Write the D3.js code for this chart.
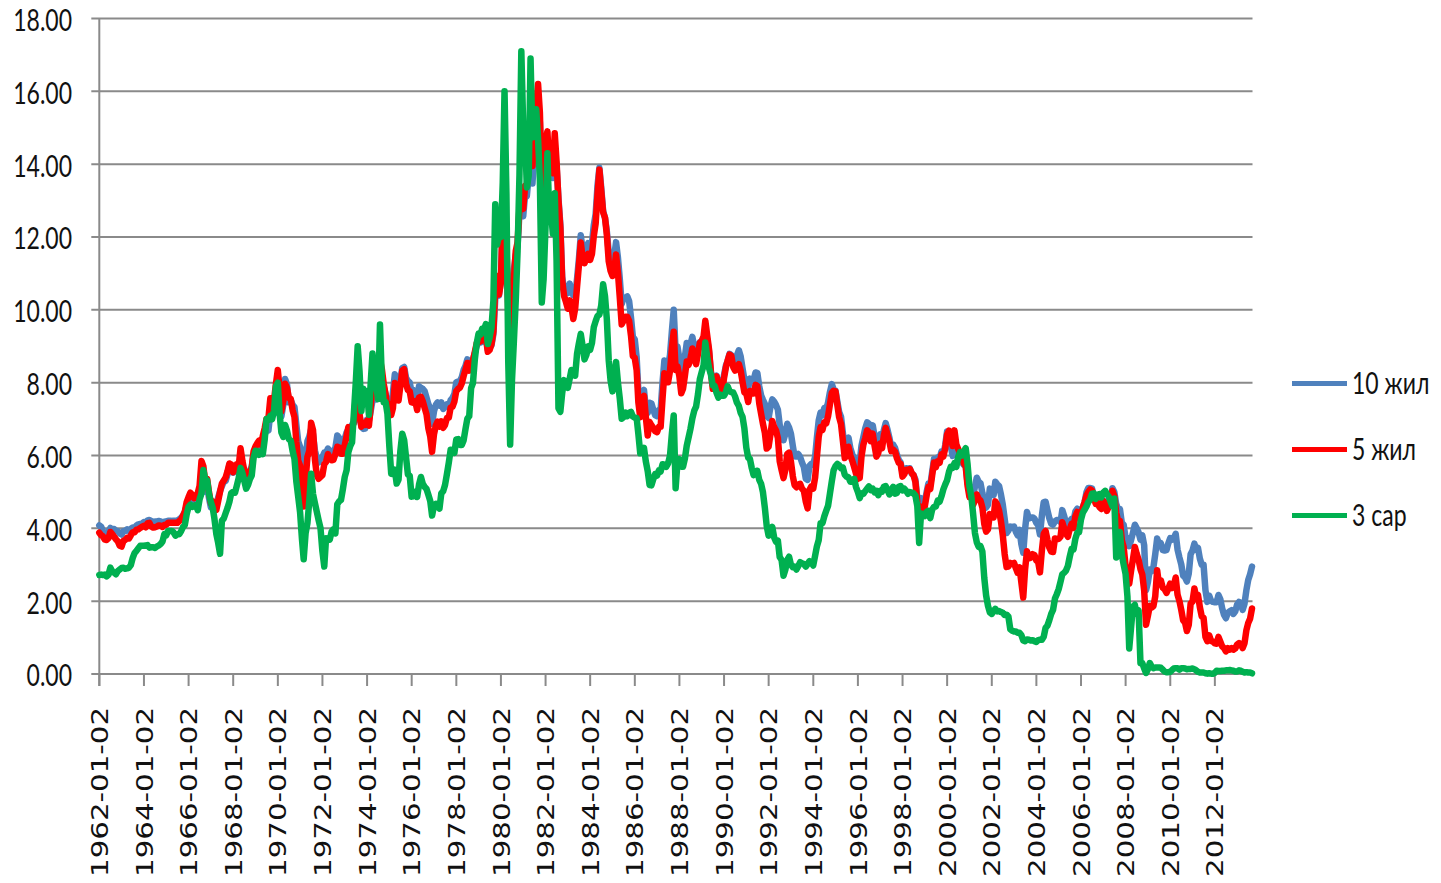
<!DOCTYPE html>
<html><head><meta charset="utf-8">
<script src="https://cdn.jsdelivr.net/npm/d3@7"></script>
<style>html,body{margin:0;padding:0;background:#fff;} svg{display:block}</style>
</head><body>
<svg id="chart" width="1441" height="883"></svg>
<script>
const seriesNames = ["10 жил", "5 жил", "3 сар"];
const seriesColors = ["#4F81BD", "#FF0000", "#00B050"];
const firstMonth = "1962-01";
const xTickLabels = ["1962-01-02","1964-01-02","1966-01-02","1968-01-02","1970-01-02","1972-01-02","1974-01-02","1976-01-02","1978-01-02","1980-01-02","1982-01-02","1984-01-02","1986-01-02","1988-01-02","1990-01-02","1992-01-02","1994-01-02","1996-01-02","1998-01-02","2000-01-02","2002-01-02","2004-01-02","2006-01-02","2008-01-02","2010-01-02","2012-01-02"];
const yTickValues = [0, 2, 4, 6, 8, 10, 12, 14, 16, 18];

// monthly values, Jan 1962 .. Sep 2013
const tenYear = [
4.08,4.04,3.93,3.84,3.87,3.91,4.01,3.98,3.98,3.93,3.92,3.86,
3.83,3.92,3.93,3.97,3.93,3.99,4.02,4.00,4.08,4.11,4.12,4.13,
4.17,4.15,4.22,4.23,4.20,4.17,4.19,4.19,4.20,4.19,4.15,4.18,
4.19,4.21,4.21,4.20,4.21,4.21,4.20,4.25,4.29,4.35,4.45,4.62,
4.61,4.83,4.87,4.75,4.78,4.81,5.02,5.22,5.18,5.01,5.16,4.84,
4.58,4.63,4.54,4.59,4.85,5.02,5.16,5.28,5.30,5.48,5.75,5.70,
5.53,5.56,5.74,5.64,5.87,5.72,5.50,5.42,5.46,5.58,5.70,6.03,
6.04,6.19,6.30,6.17,6.32,6.57,6.72,6.69,7.16,7.10,7.14,7.65,
7.79,7.24,7.07,7.39,8.10,7.95,7.46,7.53,7.39,7.33,6.84,6.39,
6.24,6.11,5.70,5.83,6.39,6.52,6.73,6.58,6.14,5.93,5.81,5.93,
5.95,6.08,6.07,6.19,6.13,6.11,6.11,6.21,6.55,6.48,6.28,6.36,
6.46,6.64,6.71,6.67,6.85,6.90,7.13,7.40,7.09,6.79,6.73,6.74,
6.99,6.96,7.21,7.51,7.58,7.54,7.81,8.04,8.04,7.90,7.68,7.43,
7.50,7.39,7.73,8.23,8.06,7.86,8.06,8.40,8.43,8.14,8.05,8.00,
7.74,7.79,7.73,7.56,7.90,7.86,7.83,7.77,7.59,7.41,7.29,6.87,
7.21,7.39,7.46,7.37,7.46,7.28,7.33,7.40,7.34,7.52,7.58,7.69,
8.01,8.03,8.04,8.15,8.35,8.46,8.64,8.41,8.42,8.64,8.81,9.01,
9.10,9.10,9.12,9.18,9.25,8.91,8.95,9.03,9.33,10.30,10.65,10.39,
10.80,12.41,12.75,11.47,10.18,9.78,10.25,11.10,11.51,11.75,12.68,12.84,
12.57,13.19,13.12,13.68,14.10,13.47,14.28,14.94,15.32,15.15,13.39,13.72,
14.59,14.43,13.86,13.87,13.62,14.30,13.95,13.06,12.34,10.91,10.55,10.54,
10.46,10.72,10.51,10.40,10.38,10.85,11.38,12.05,11.65,11.54,11.69,11.83,
11.67,11.84,12.32,12.63,13.41,13.90,13.36,12.72,12.52,12.16,11.57,11.50,
11.38,11.51,11.86,11.43,10.85,10.16,10.31,10.33,10.37,10.24,9.78,9.26,
9.19,8.70,7.78,7.30,7.71,7.80,7.30,7.17,7.45,7.43,7.25,7.11,
7.08,7.25,7.25,8.02,8.61,8.40,8.45,8.76,9.42,10.00,8.86,8.99,
8.67,8.21,8.37,8.72,9.09,8.92,9.06,9.26,8.98,8.80,8.96,9.11,
9.09,9.17,9.40,9.18,8.86,8.28,8.02,8.11,8.19,8.01,7.87,7.84,
8.21,8.47,8.59,8.79,8.76,8.48,8.47,8.75,8.89,8.72,8.39,8.08,
8.09,7.85,8.11,8.04,8.07,8.28,8.27,7.90,7.65,7.53,7.42,7.09,
7.03,7.34,7.54,7.48,7.39,7.26,6.84,6.59,6.42,6.59,6.87,6.77,
6.60,6.26,5.98,5.97,6.04,5.96,5.81,5.68,5.36,5.33,5.72,5.77,
5.75,5.97,6.48,6.97,7.18,7.10,7.30,7.24,7.46,7.74,7.96,7.81,
7.78,7.47,7.20,7.06,6.63,6.17,6.28,6.49,6.20,6.04,5.93,5.71,
5.65,5.81,6.27,6.51,6.74,6.91,6.87,6.64,6.83,6.53,6.20,6.30,
6.58,6.42,6.69,6.89,6.71,6.49,6.22,6.30,6.21,6.03,5.88,5.81,
5.54,5.57,5.65,5.64,5.65,5.50,5.46,5.34,4.81,4.60,4.83,4.65,
4.72,5.00,5.23,5.18,5.54,5.90,5.79,5.94,5.92,6.11,6.03,6.28,
6.66,6.52,6.26,5.99,6.44,6.10,6.05,5.83,5.80,5.74,5.72,5.24,
5.16,5.10,4.89,5.14,5.39,5.28,5.24,4.97,4.73,4.57,4.65,5.09,
5.04,4.91,5.28,5.21,5.16,4.93,4.65,4.26,3.87,3.94,4.05,4.03,
4.05,3.90,3.81,3.96,3.57,3.33,3.98,4.45,4.27,4.29,4.30,4.27,
4.15,4.08,3.83,4.35,4.72,4.73,4.50,4.28,4.13,4.10,4.19,4.23,
4.22,4.17,4.50,4.34,4.14,4.00,4.18,4.26,4.20,4.46,4.54,4.47,
4.42,4.57,4.72,4.99,5.11,5.11,5.09,4.88,4.72,4.73,4.60,4.56,
4.76,4.72,4.56,4.69,4.75,5.10,5.00,4.67,4.52,4.53,4.15,4.10,
3.74,3.74,3.51,3.68,3.88,4.10,4.01,3.89,3.69,3.81,3.53,2.30,
2.52,2.87,2.82,2.93,3.29,3.72,3.56,3.59,3.40,3.39,3.40,3.59,
3.73,3.69,3.73,3.85,3.42,3.20,3.01,2.70,2.65,2.54,2.76,3.29,
3.39,3.58,3.41,3.46,3.17,3.00,3.00,2.30,1.98,2.15,2.01,1.98,
1.97,1.97,2.17,2.05,1.80,1.62,1.53,1.68,1.72,1.75,1.65,1.72,
1.91,1.98,1.96,1.76,1.93,2.30,2.58,2.74,2.95
];
const fiveYear = [
3.88,3.81,3.78,3.69,3.68,3.73,3.90,3.84,3.77,3.70,3.64,3.52,
3.50,3.66,3.68,3.74,3.72,3.81,3.89,3.89,3.96,3.97,4.01,4.04,
4.07,4.03,4.14,4.15,4.05,4.02,4.03,4.05,4.08,4.07,4.04,4.09,
4.10,4.15,4.15,4.15,4.15,4.15,4.15,4.20,4.25,4.34,4.46,4.72,
4.86,4.98,4.92,4.83,4.89,4.97,5.17,5.85,5.70,5.27,5.36,5.00,
4.70,4.74,4.54,4.51,4.75,5.01,5.23,5.31,5.40,5.57,5.78,5.75,
5.54,5.59,5.76,5.69,6.20,5.85,5.60,5.50,5.48,5.55,5.66,6.12,
6.25,6.34,6.41,6.30,6.54,6.75,7.01,7.03,7.57,7.51,7.53,7.96,
8.35,7.82,7.21,7.50,7.97,7.86,7.58,7.56,7.24,7.06,6.37,5.86,
5.72,5.31,4.60,5.31,5.96,6.13,6.90,6.70,5.89,5.47,5.36,5.41,
5.46,5.76,5.82,6.04,5.94,5.87,5.88,6.04,6.24,6.22,6.05,6.05,
6.28,6.54,6.78,6.67,6.73,6.95,7.64,7.87,7.12,6.79,6.88,6.84,
6.95,6.82,7.31,7.92,8.18,8.10,8.38,8.63,8.37,7.97,7.68,7.31,
7.41,7.11,7.30,7.99,7.72,7.51,7.92,8.33,8.37,7.97,7.80,7.76,
7.46,7.45,7.49,7.25,7.59,7.61,7.49,7.31,7.13,6.75,6.52,6.10,
6.58,6.83,6.93,6.79,6.94,6.76,6.84,7.03,7.04,7.32,7.34,7.48,
7.77,7.83,7.86,7.98,8.18,8.36,8.54,8.33,8.43,8.61,8.84,9.08,
9.20,9.13,9.20,9.25,9.24,8.85,8.90,9.06,9.41,10.63,10.93,10.42,
10.74,12.60,13.47,11.84,9.95,9.21,9.53,10.84,11.62,11.86,12.83,13.25,
12.77,13.41,13.41,13.99,14.63,13.95,14.79,15.56,16.20,15.41,13.38,13.60,
14.65,14.90,13.98,14.00,13.75,14.85,14.07,13.00,12.25,10.80,10.38,10.22,
10.03,10.26,10.08,9.75,10.03,10.63,11.21,11.85,11.43,11.28,11.41,11.54,
11.37,11.54,12.02,12.37,13.17,13.85,13.27,12.68,12.53,12.06,11.33,11.07,
10.93,11.13,11.52,11.01,10.34,9.60,9.70,9.81,9.81,9.69,9.28,8.73,
8.68,8.34,7.46,7.05,7.52,7.64,7.06,6.55,6.92,6.83,6.76,6.67,
6.64,6.79,6.79,7.57,8.26,8.02,8.01,8.32,8.94,9.40,8.35,8.45,
8.18,7.71,7.83,8.19,8.58,8.49,8.66,8.94,8.69,8.51,8.79,9.09,
9.15,9.27,9.70,9.30,8.91,8.29,7.83,8.09,8.17,7.97,7.81,7.75,
8.12,8.42,8.60,8.77,8.74,8.43,8.33,8.44,8.51,8.33,8.02,7.73,
7.70,7.47,7.77,7.70,7.70,7.94,7.91,7.43,7.14,6.87,6.62,6.19,
6.24,6.58,6.95,6.78,6.69,6.48,5.84,5.60,5.38,5.60,6.04,6.08,
5.83,5.43,5.19,5.13,5.20,5.22,5.09,5.03,4.73,4.55,5.06,5.15,
5.09,5.40,5.94,6.52,6.78,6.70,6.91,6.88,7.08,7.40,7.72,7.78,
7.76,7.37,7.05,6.86,6.41,5.93,6.01,6.24,6.00,5.86,5.69,5.51,
5.36,5.38,5.97,6.30,6.48,6.69,6.64,6.39,6.60,6.27,5.97,6.07,
6.33,6.20,6.54,6.76,6.57,6.38,6.12,6.16,6.11,5.93,5.80,5.77,
5.42,5.49,5.61,5.61,5.63,5.52,5.46,5.27,4.70,4.45,4.60,4.45,
4.60,4.91,5.14,5.08,5.44,5.81,5.68,5.84,5.80,6.03,5.97,6.19,
6.58,6.68,6.50,6.26,6.69,6.30,6.18,6.06,5.93,5.78,5.70,5.17,
4.86,4.89,4.64,4.76,4.93,4.81,4.76,4.57,4.12,3.91,3.97,4.39,
4.34,4.30,4.74,4.65,4.49,4.19,3.81,3.29,2.94,2.95,3.05,3.03,
3.05,2.90,2.78,2.93,2.52,2.10,2.87,3.37,3.18,3.19,3.29,3.27,
3.12,3.07,2.79,3.39,3.85,3.93,3.69,3.47,3.36,3.35,3.72,3.71,
3.71,3.77,4.17,4.00,3.85,3.77,3.98,4.12,4.01,4.33,4.45,4.39,
4.35,4.57,4.72,4.90,5.00,5.07,5.04,4.82,4.67,4.69,4.58,4.53,
4.75,4.71,4.48,4.59,4.67,5.03,4.88,4.43,4.20,4.20,3.67,3.49,
2.98,2.78,2.48,2.84,3.15,3.49,3.30,3.14,2.88,2.73,2.29,1.35,
1.60,1.87,1.82,1.86,2.13,2.85,2.46,2.57,2.37,2.33,2.23,2.34,
2.48,2.36,2.43,2.65,2.18,2.00,1.76,1.47,1.41,1.18,1.35,1.93,
1.99,2.35,2.11,2.17,1.84,1.58,1.54,1.02,0.90,1.06,0.91,0.89,
0.84,0.83,1.02,0.89,0.76,0.71,0.62,0.71,0.67,0.71,0.67,0.70,
0.81,0.85,0.82,0.71,0.84,1.20,1.40,1.52,1.80
];
const threeMonth = [
2.72,2.73,2.72,2.73,2.68,2.73,2.92,2.82,2.78,2.74,2.83,2.87,
2.91,2.92,2.89,2.90,2.92,2.99,3.18,3.32,3.38,3.45,3.52,3.52,
3.52,3.53,3.54,3.47,3.48,3.48,3.46,3.50,3.53,3.57,3.64,3.84,
3.81,3.93,3.93,3.93,3.89,3.80,3.84,3.84,3.92,4.03,4.09,4.38,
4.59,4.65,4.59,4.62,4.64,4.50,4.80,4.96,5.60,5.35,5.32,4.96,
4.72,4.56,4.26,3.84,3.60,3.30,4.21,4.27,4.42,4.56,4.73,4.97,
5.00,4.98,5.17,5.38,5.66,5.52,5.31,5.09,5.19,5.35,5.45,5.94,
6.13,6.12,6.02,6.11,6.04,6.44,7.00,6.98,7.09,7.00,7.24,7.90,
8.00,7.13,6.63,6.51,6.84,6.68,6.45,6.41,6.12,5.91,5.28,4.87,
4.44,3.70,3.15,3.86,4.14,4.75,5.50,4.94,4.69,4.46,4.22,4.01,
3.38,2.95,3.73,3.71,3.69,3.91,3.98,3.86,4.66,4.74,4.78,5.07,
5.41,5.60,6.09,6.26,6.36,7.19,8.01,9.00,8.29,7.22,7.83,7.45,
7.77,7.12,7.96,8.80,8.23,7.90,7.55,9.60,8.06,7.46,7.47,7.15,
6.26,5.50,5.49,5.61,5.23,5.34,6.13,6.60,6.42,5.96,5.48,5.44,
4.87,4.88,5.00,4.86,5.20,5.41,5.23,5.14,5.08,4.92,4.75,4.35,
4.62,4.67,4.60,4.54,4.96,5.02,5.19,5.49,5.81,6.16,6.10,6.07,
6.44,6.45,6.29,6.29,6.41,6.73,7.01,7.08,7.85,7.99,8.64,9.08,
9.35,9.32,9.48,9.46,9.61,9.06,9.24,9.52,10.26,12.90,11.79,12.04,
12.00,13.50,16.00,13.20,8.58,6.30,8.06,9.13,10.27,11.62,13.73,17.10,
15.02,14.79,13.36,13.69,16.90,14.73,14.95,15.51,14.70,13.54,10.20,10.85,
12.28,14.30,12.68,12.70,12.09,13.20,11.35,7.30,7.20,7.71,8.07,7.94,
7.86,8.11,8.35,8.21,8.19,8.79,9.08,9.34,9.00,8.64,8.76,9.00,
8.90,9.09,9.52,9.69,9.83,9.87,10.12,10.70,10.37,9.74,8.61,8.06,
7.76,8.22,8.57,8.00,7.56,7.01,7.05,7.18,7.08,7.17,7.20,7.07,
7.04,7.03,6.59,6.06,6.12,6.21,5.84,5.57,5.19,5.18,5.35,5.49,
5.45,5.59,5.56,5.76,5.75,5.69,5.78,6.00,6.60,7.10,5.10,5.80,
5.90,5.69,5.69,5.92,6.27,6.50,6.73,7.02,7.23,7.34,7.68,8.09,
8.29,8.48,9.10,8.70,8.40,8.22,7.92,7.91,7.72,7.59,7.67,7.64,
7.64,7.74,7.90,7.77,7.74,7.73,7.62,7.45,7.36,7.17,7.06,6.74,
6.22,5.94,5.91,5.65,5.46,5.57,5.58,5.33,5.22,4.99,4.56,4.07,
3.80,3.84,4.04,3.75,3.63,3.66,3.21,3.13,2.70,2.86,3.13,3.22,
3.00,2.93,2.95,2.87,2.96,3.07,3.04,3.02,2.95,3.02,3.10,3.06,
2.98,3.25,3.50,3.68,4.14,4.14,4.33,4.48,4.62,4.95,5.29,5.60,
5.71,5.77,5.73,5.65,5.67,5.47,5.42,5.40,5.28,5.28,5.36,5.14,
5.00,4.83,4.96,4.95,5.02,5.09,5.15,5.05,5.09,4.99,5.03,4.91,
5.03,5.01,5.14,5.16,5.05,4.93,5.05,5.14,4.95,4.97,5.14,5.16,
5.04,5.09,5.03,4.95,5.00,4.98,4.96,4.90,4.61,3.60,4.41,4.39,
4.34,4.45,4.48,4.28,4.51,4.59,4.60,4.76,4.73,4.88,5.07,5.20,
5.32,5.55,5.69,5.66,5.79,5.69,5.96,6.09,6.00,6.11,6.20,5.77,
5.15,4.88,4.42,3.87,3.62,3.49,3.51,3.36,2.64,2.16,1.87,1.69,
1.65,1.73,1.79,1.72,1.73,1.70,1.68,1.62,1.63,1.58,1.23,1.19,
1.17,1.17,1.13,1.13,1.07,0.92,0.90,0.95,0.94,0.92,0.93,0.90,
0.88,0.93,0.94,0.94,1.02,1.27,1.33,1.48,1.65,1.76,2.07,2.19,
2.33,2.54,2.74,2.78,2.84,2.97,3.22,3.44,3.42,3.71,3.88,3.89,
4.24,4.43,4.51,4.60,4.72,4.79,4.95,4.96,4.81,4.92,4.94,4.85,
4.98,5.03,4.94,4.87,4.73,4.61,4.82,3.20,3.89,3.90,3.27,3.00,
2.75,2.12,0.70,1.29,1.85,1.90,1.65,1.75,0.30,0.30,0.15,0.03,
0.13,0.30,0.21,0.16,0.18,0.18,0.18,0.17,0.12,0.07,0.05,0.05,
0.06,0.11,0.15,0.16,0.16,0.12,0.16,0.16,0.15,0.13,0.14,0.14,
0.15,0.13,0.10,0.06,0.04,0.04,0.04,0.02,0.01,0.02,0.01,0.01,
0.03,0.09,0.08,0.08,0.09,0.09,0.10,0.10,0.11,0.10,0.09,0.07,
0.07,0.10,0.09,0.06,0.04,0.05,0.04,0.04,0.02
];

const plot = {left: 99.3, right: 1252, top: 18.5, bottom: 674};
const svg = d3.select("#chart");
svg.append("rect").attr("width", 1441).attr("height", 883).attr("fill", "#fff");

const parseMonth = d3.timeParse("%Y-%m");
const parseDay = d3.timeParse("%Y-%m-%d");
const start = parseMonth(firstMonth);
const dates = tenYear.map((_, i) => d3.timeMonth.offset(start, i));

const x = d3.scaleTime().domain([start, dates[dates.length - 1]]).range([plot.left, plot.right]);
const y = d3.scaleLinear().domain([0, 18]).range([plot.bottom, plot.top]);

const gridColor = "#8a8a8a";
// gridlines
svg.append("g").selectAll("line").data(yTickValues).join("line")
  .attr("x1", plot.left - 8).attr("x2", plot.right + 0.5)
  .attr("y1", d => y(d)).attr("y2", d => y(d))
  .attr("stroke", gridColor).attr("stroke-width", 2);
// y axis line
svg.append("line").attr("x1", plot.left).attr("x2", plot.left)
  .attr("y1", y(18)).attr("y2", plot.bottom + 12)
  .attr("stroke", gridColor).attr("stroke-width", 2);
// x ticks
svg.append("g").selectAll("line").data(xTickLabels).join("line")
  .attr("x1", d => x(parseDay(d))).attr("x2", d => x(parseDay(d)))
  .attr("y1", plot.bottom).attr("y2", plot.bottom + 12)
  .attr("stroke", gridColor).attr("stroke-width", 2);

// y labels
const fmt = d3.format(".2f");
svg.append("g").selectAll("text").data(yTickValues).join("text")
  .attr("transform", d => `translate(72,${y(d) + 1.5}) scale(1,1.31)`)
  .attr("text-anchor", "end").attr("dy", "0.36em")
  .attr("font-family", "Lato, 'Open Sans', sans-serif").attr("font-size", 23)
  .attr("fill", "#111").text(d => fmt(d));

// x labels
svg.append("g").selectAll("text").data(xTickLabels).join("text")
  .attr("transform", d => `translate(${x(parseDay(d)) + 0.5},707) rotate(-90) scale(1.3,1)`)
  .attr("text-anchor", "end").attr("dy", "0.36em")
  .attr("font-family", "'DejaVu Sans', Verdana, sans-serif").attr("font-size", 22.5)
  .attr("fill", "#111").text(d => d);

// lines
const series = [tenYear, fiveYear, threeMonth];
const line = d3.line().x((d, i) => x(dates[i])).y(d => y(d));
svg.append("g").selectAll("path").data(series).join("path")
  .attr("d", d => line(d))
  .attr("fill", "none")
  .attr("stroke", (d, i) => seriesColors[i])
  .attr("stroke-width", 6.5)
  .attr("stroke-linejoin", "round")
  .attr("stroke-linecap", "round");

// legend
const legendY = [383.5, 449.5, 515.5];
const lg = svg.append("g").selectAll("g").data(seriesNames).join("g")
  .attr("transform", (d, i) => `translate(0,${legendY[i]})`);
lg.append("line").attr("x1", 1292).attr("x2", 1347).attr("y1", 0).attr("y2", 0)
  .attr("stroke", (d, i) => seriesColors[i]).attr("stroke-width", 5);
lg.append("text").attr("transform", "translate(1352,0) scale(1,1.31)")
  .attr("dy", "0.36em")
  .attr("font-family", "Lato, 'Open Sans', sans-serif").attr("font-size", 23)
  .attr("fill", "#111").text(d => d);
</script>
</body></html>
